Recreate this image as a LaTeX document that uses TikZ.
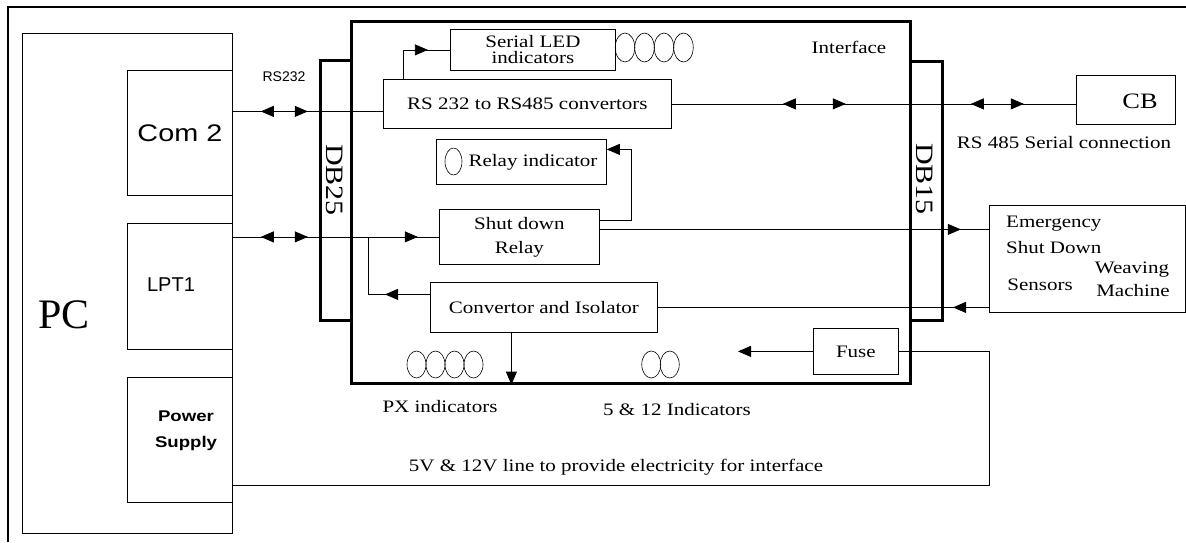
\documentclass[tikz,border=0pt]{standalone}
\usepackage{fontspec}
\setmainfont{Liberation Serif}[FakeStretch=1.2]
\setsansfont{Liberation Sans}[FakeStretch=1.2]
\newfontfamily\pcfont{Liberation Serif}
\newfontfamily\narrowsans{Liberation Sans}
\usetikzlibrary{arrows.meta,decorations.markings}
\newcommand\lbltext{\fontsize{17.5}{20}\selectfont}

\begin{document}
\begin{tikzpicture}[x=1pt,y=-1pt,
  wire/.style={line width=0.8pt},
  led/.style={line width=0.6pt},
  blk/.style={draw, line width=0.8pt, anchor=north west, inner sep=0pt, align=center, font=\lbltext},
  heavy/.style={draw, line width=2.6pt, anchor=north west, inner sep=0pt},
  lbl/.style={inner sep=0pt, font=\lbltext},
  endtip/.style={-{Triangle[length=13pt,width=11pt]}},
  fwdat/.style={postaction={decorate,decoration={markings,
    mark=at position #1 with {\arrow{Triangle[length=13pt,width=11pt]}}}}},
  bwdat/.style={postaction={decorate,decoration={markings,
    mark=at position #1 with {\arrowreversed{Triangle[length=13pt,width=11pt]}}}}}]
\useasboundingbox (0,0) rectangle (1186,542);
\draw[line width=1.2pt] (8,542) -- (8,7) -- (1186,7);

% PC side
\node[blk, minimum width=210pt, minimum height=500pt] (pc) at (22,33) {};
\node[lbl, font=\pcfont\fontsize{42}{42}\selectfont] (pclbl) at (64,315) {PC};
\node[blk, minimum width=105pt, minimum height=125pt, font=\sffamily\fontsize{24}{24}\selectfont] (com) at (127,70) {Com 2};
\node[blk, minimum width=105pt, minimum height=126pt] (lpt) at (127,223) {};
\node[lbl, font=\narrowsans\fontsize{20}{20}\selectfont] (lptlbl) at (171,285) {LPT1};
\node[blk, minimum width=105pt, minimum height=125pt] (psu) at (127,377) {};
\node[lbl, align=center, font=\sffamily\bfseries\fontsize{15.5}{26}\selectfont] (psulbl) at (186,431) {Power\\Supply};
\node[lbl, font=\narrowsans\fontsize{14}{14}\selectfont] (rs232lbl) at (284,77) {RS232};

% interface and connectors
\node[heavy, minimum width=559pt, minimum height=362pt] (iface) at (350,20) {};
\node[heavy, minimum width=31pt, minimum height=260pt] (db25) at (319,59) {};
\node[heavy, minimum width=32pt, minimum height=259pt] (db15) at (909,60) {};
\node[lbl, rotate=-90, font=\fontsize{25}{25}\selectfont] (db25lbl) at (334.5,180) {DB25};
\node[lbl, rotate=-90, font=\fontsize{25}{25}\selectfont] (db15lbl) at (925,179) {DB15};
\node[lbl] (ifacelbl) at (849,47) {Interface};

% inside the interface
\node[blk, minimum width=165pt, minimum height=41pt, font=\fontsize{17.5}{16}\selectfont] (serled) at (450,29) {Serial LED\\indicators};
\node[blk, minimum width=288pt, minimum height=49pt] (rsconv) at (383,79) {RS 232 to RS485 convertors};
\node[blk, minimum width=170pt, minimum height=45pt] (relind) at (436,139) {};
\node[lbl] (relindlbl) at (533,162) {Relay indicator};
\node[blk, minimum width=160pt, minimum height=55pt, font=\fontsize{17.5}{24}\selectfont] (shut) at (439,209) {Shut down\\Relay};
\node[blk, minimum width=227pt, minimum height=50pt] (conv) at (430,282) {Convertor and Isolator};
\node[blk, minimum width=85pt, minimum height=46pt] (fuse) at (813,328) {Fuse};
\node[lbl] (pxlbl) at (440,407) {PX indicators};
\node[lbl] (ind512lbl) at (677,410) {5 \& 12 Indicators};

% LEDs
\draw[led] (625,47.5) ellipse [x radius=9.75pt, y radius=14.5pt];
\draw[led] (644.5,47.5) ellipse [x radius=9.75pt, y radius=14.5pt];
\draw[led] (664,47.5) ellipse [x radius=9.75pt, y radius=14.5pt];
\draw[led] (683.5,47.5) ellipse [x radius=9.75pt, y radius=14.5pt];
\draw[led] (453.5,161.5) ellipse [x radius=8.5pt, y radius=13.5pt];
\draw[led] (416.5,364.5) ellipse [x radius=9.5pt, y radius=13.5pt];
\draw[led] (435.5,364.5) ellipse [x radius=9.5pt, y radius=13.5pt];
\draw[led] (454.5,364.5) ellipse [x radius=9.5pt, y radius=13.5pt];
\draw[led] (473.5,364.5) ellipse [x radius=9.5pt, y radius=13.5pt];
\draw[led] (651.25,364.5) ellipse [x radius=9.5pt, y radius=13.5pt];
\draw[led] (669.75,364.5) ellipse [x radius=9.5pt, y radius=13.5pt];

% outside parts
\node[blk, minimum width=99pt, minimum height=49pt] (cb) at (1076,75) {};
\node[lbl, font=\fontsize{22}{22}\selectfont] (cblbl) at (1140,101) {CB};
\node[lbl] (rs485lbl) at (1064,143) {RS 485 Serial connection};
\node[blk, minimum width=196pt, minimum height=107pt] (emg) at (989,205) {};
\node[lbl, anchor=west] (emglbl) at (1006,224) {Emergency};
\node[lbl, anchor=west] (sdlbl) at (1006,248) {Shut Down};
\node[lbl] (senslbl) at (1040,285) {Sensors};
\node[lbl] (weavlbl) at (1132,270) {Weaving};
\node[lbl] (machlbl) at (1133,291) {Machine};
\node[lbl] (pwrlbl) at (616,467) {5V \& 12V line to provide electricity for interface};

% links
\coordinate (c1) at ([yshift=21.5pt]com.east);
\draw[wire, bwdat=28pt, fwdat=75pt] (c1) -- (c1 -| rsconv.west);
\draw[wire, bwdat=111pt, fwdat=174pt, bwdat=299pt, fwdat=352pt] (rsconv.east) -- (rsconv.east -| cb.west);
\draw[wire, fwdat=54pt] ([xshift=20pt]rsconv.north west) |- (serled.west);
\draw[wire, endtip] ([yshift=16.5pt]shut.east) -| ([xshift=25pt,yshift=12.5pt]relind.east) -- ([yshift=12.5pt]relind.east);
\draw[wire, bwdat=28pt, fwdat=75pt, fwdat=185pt] (shut.west -| lpt.east) -- (shut.west);
\coordinate (jn) at ([xshift=-71pt]shut.west);
\draw[wire, fwdat=45pt] ([yshift=13pt]conv.west) -| (jn);
\coordinate (c2) at ([yshift=7.5pt]shut.east);
\draw[wire, fwdat=361pt] (c2) -- (c2 -| emg.west);
\draw[wire, fwdat=36pt] (conv.east -| emg.west) -- (conv.east);
\coordinate (c3) at ([xshift=-32.5pt]conv.south);
\draw[wire, endtip] (c3) -- (c3 |- iface.south);
\draw[wire, endtip] (fuse.west) -- ([xshift=-75pt]fuse.west);
\draw[wire] ([yshift=-45.5pt]psu.east) -| (emg.west |- fuse.east) -- (fuse.east);
\end{tikzpicture}
\end{document}
